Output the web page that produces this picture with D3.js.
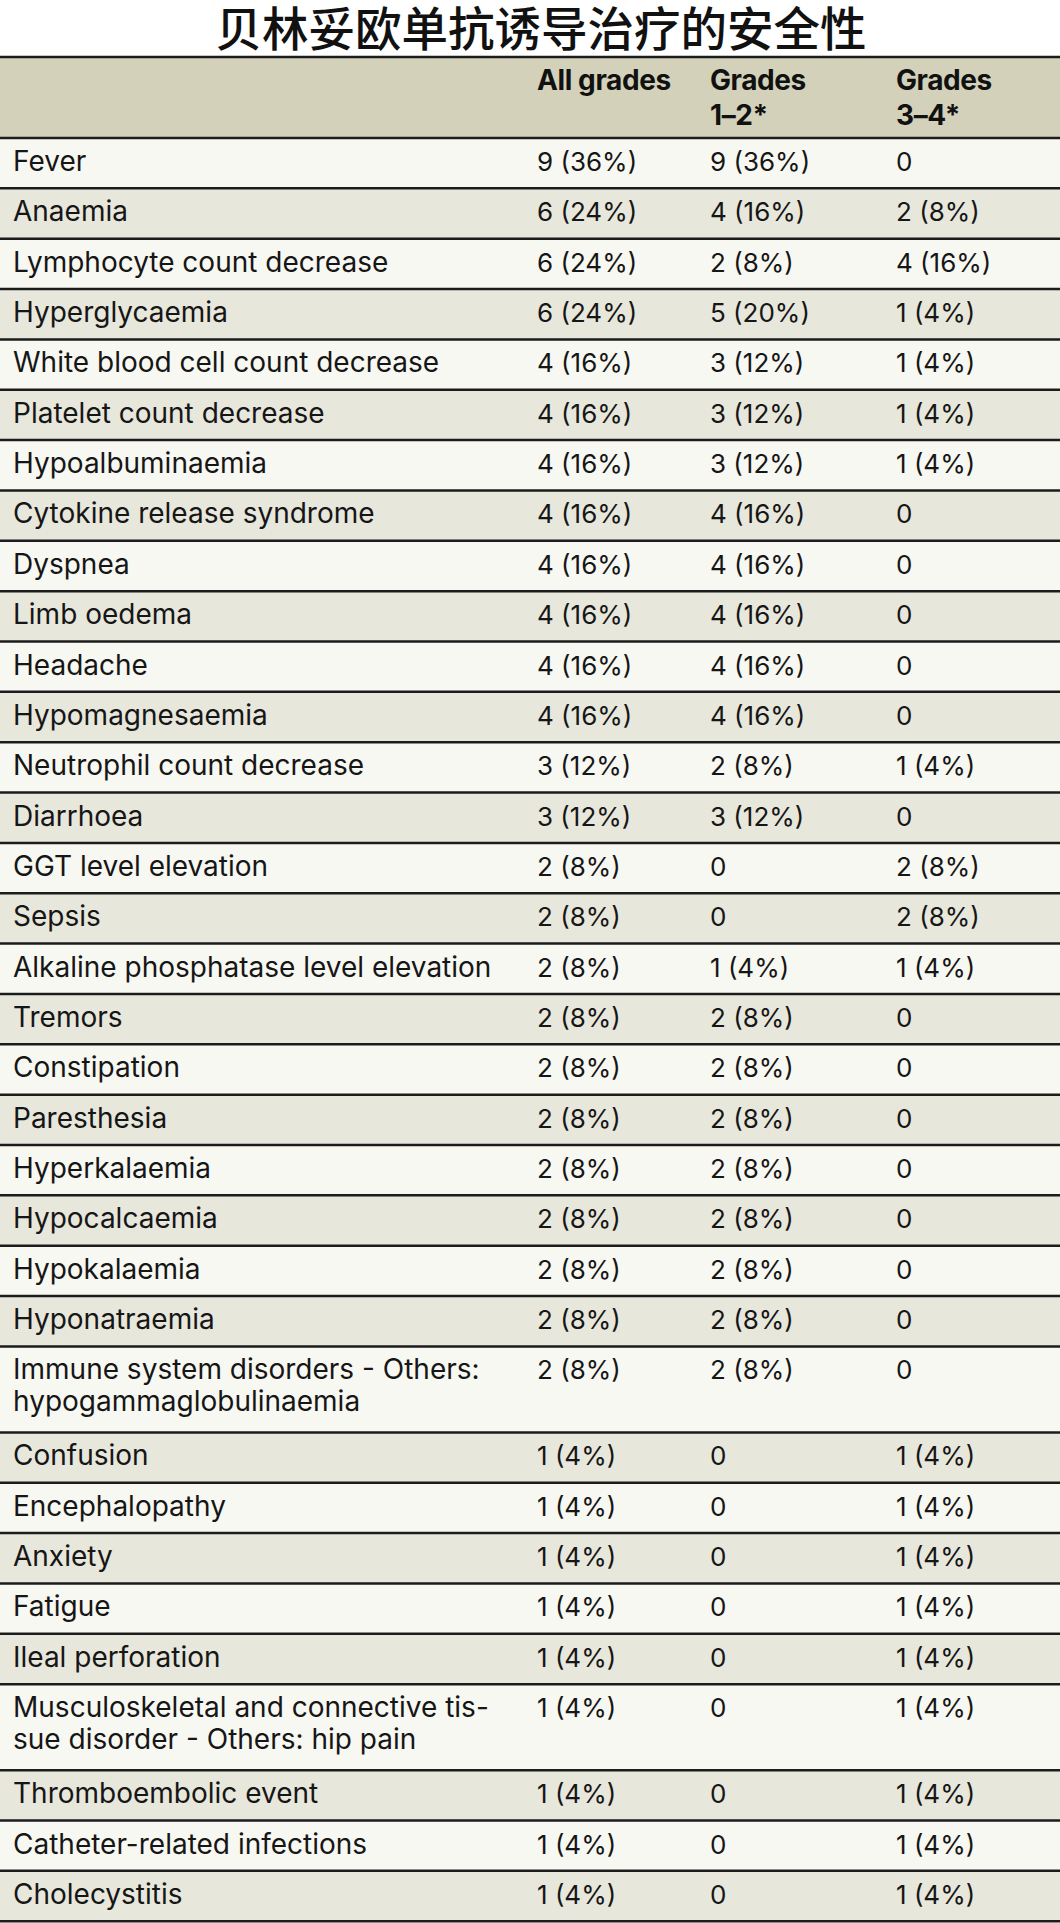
<!DOCTYPE html>
<html>
<head>
<meta charset="utf-8">
<script src="https://cdn.jsdelivr.net/npm/d3@7"></script>
<style>
  html, body { margin: 0; padding: 0; background: #ffffff; }
  svg { display: block; }
</style>
</head>
<body>
<div id="chart"></div>
<script>
// ---------- data ----------
const title = "贝林妥欧单抗诱导治疗的安全性";
const columnKeys = ["label", "all", "g12", "g34"];
const headerLabels = [[""], ["All grades"], ["Grades", "1–2*"], ["Grades", "3–4*"]];

const events = [
  ["Fever"],
  ["Anaemia"],
  ["Lymphocyte count decrease"],
  ["Hyperglycaemia"],
  ["White blood cell count decrease"],
  ["Platelet count decrease"],
  ["Hypoalbuminaemia"],
  ["Cytokine release syndrome"],
  ["Dyspnea"],
  ["Limb oedema"],
  ["Headache"],
  ["Hypomagnesaemia"],
  ["Neutrophil count decrease"],
  ["Diarrhoea"],
  ["GGT level elevation"],
  ["Sepsis"],
  ["Alkaline phosphatase level elevation"],
  ["Tremors"],
  ["Constipation"],
  ["Paresthesia"],
  ["Hyperkalaemia"],
  ["Hypocalcaemia"],
  ["Hypokalaemia"],
  ["Hyponatraemia"],
  ["Immune system disorders - Others:", "hypogammaglobulinaemia"],
  ["Confusion"],
  ["Encephalopathy"],
  ["Anxiety"],
  ["Fatigue"],
  ["Ileal perforation"],
  ["Musculoskeletal and connective tis-", "sue disorder - Others: hip pain"],
  ["Thromboembolic event"],
  ["Catheter-related infections"],
  ["Cholecystitis"]
];

const allGrades = ["9 (36%)","6 (24%)","6 (24%)","6 (24%)","4 (16%)","4 (16%)","4 (16%)","4 (16%)","4 (16%)","4 (16%)","4 (16%)","4 (16%)","3 (12%)","3 (12%)","2 (8%)","2 (8%)","2 (8%)","2 (8%)","2 (8%)","2 (8%)","2 (8%)","2 (8%)","2 (8%)","2 (8%)","2 (8%)","1 (4%)","1 (4%)","1 (4%)","1 (4%)","1 (4%)","1 (4%)","1 (4%)","1 (4%)","1 (4%)"];
const grades12 = ["9 (36%)","4 (16%)","2 (8%)","5 (20%)","3 (12%)","3 (12%)","3 (12%)","4 (16%)","4 (16%)","4 (16%)","4 (16%)","4 (16%)","2 (8%)","3 (12%)","0","0","1 (4%)","2 (8%)","2 (8%)","2 (8%)","2 (8%)","2 (8%)","2 (8%)","2 (8%)","2 (8%)","0","0","0","0","0","0","0","0","0"];
const grades34 = ["0","2 (8%)","4 (16%)","1 (4%)","1 (4%)","1 (4%)","1 (4%)","0","0","0","0","0","1 (4%)","0","2 (8%)","2 (8%)","1 (4%)","0","0","0","0","0","0","0","0","1 (4%)","1 (4%)","1 (4%)","1 (4%)","1 (4%)","1 (4%)","1 (4%)","1 (4%)","1 (4%)"];

// ---------- layout ----------
const W = 1060, H = 1923;
const headerTop = 57, headerBottom = 138;
const singleH = 50.35, doubleH = 86;
const lineGap = 32;
const fontFamily = "Inter, 'Liberation Sans', Arial, sans-serif";

const rows = events.map((lines, i) => ({
  lines, cells: [allGrades[i], grades12[i], grades34[i]], i
}));
let acc = headerBottom;
rows.forEach(r => { r.y0 = acc; r.h = r.lines.length > 1 ? doubleH : singleH; acc += r.h; });

const x = d3.scaleOrdinal().domain(columnKeys).range([13, 537, 710, 896]);
const y = d3.scaleOrdinal().domain(rows.map(r => r.i)).range(rows.map(r => r.y0));

const svg = d3.select("#chart").append("svg").attr("width", W).attr("height", H);

// title
svg.append("text")
  .attr("x", 541).attr("y", 46)
  .attr("text-anchor", "middle")
  .style("font-family", "'Noto Sans CJK SC', sans-serif")
  .style("font-weight", 500).style("font-size", "46.5px").attr("fill", "#111")
  .text(title);

// header
svg.append("rect").attr("x", 0).attr("y", headerTop).attr("width", W)
  .attr("height", headerBottom - headerTop).attr("fill", "#d3d1b9");

const hdr = svg.append("g");
headerLabels.forEach((lines, ci) => {
  const t = hdr.append("text")
    .attr("x", x(columnKeys[ci])).attr("y", 90)
    .style("font-family", fontFamily).style("font-weight", 700)
    .style("font-size", "28px").style("letter-spacing", "-0.4px").attr("fill", "#111");
  lines.forEach((l, li) => {
    t.append("tspan").attr("x", x(columnKeys[ci])).attr("y", 90 + li * 35).text(l);
  });
});

// rows
const g = svg.append("g");
const rg = g.selectAll("g.row").data(rows).join("g").attr("class", "row")
  .attr("transform", d => `translate(0,${y(d.i)})`);

rg.append("rect").attr("x", 0).attr("y", 0).attr("width", W)
  .attr("height", d => d.h)
  .attr("fill", d => d.i % 2 === 0 ? "#f8f8f3" : "#e7e7dc");

rg.append("text")
  .attr("x", x("label")).attr("y", 33)
  .style("font-family", fontFamily).style("font-size", "28px").attr("fill", "#161616")
  .selectAll("tspan").data(d => d.lines).join("tspan")
  .attr("x", x("label")).attr("y", (d, li) => 33 + li * lineGap).text(d => d);

["all", "g12", "g34"].forEach((k, ci) => {
  rg.append("text")
    .attr("x", x(k)).attr("y", 33)
    .style("font-family", fontFamily).style("font-size", "26px").attr("fill", "#161616")
    .text(d => d.cells[ci]);
});

// separator lines
const bounds = [headerTop, headerBottom].concat(rows.map(r => r.y0 + r.h));
svg.append("g").selectAll("line").data(bounds).join("line")
  .attr("x1", 0).attr("x2", W)
  .attr("y1", d => d).attr("y2", d => d)
  .attr("stroke", "#1c1c1c").attr("stroke-width", 2.5);
</script>
</body>
</html>
